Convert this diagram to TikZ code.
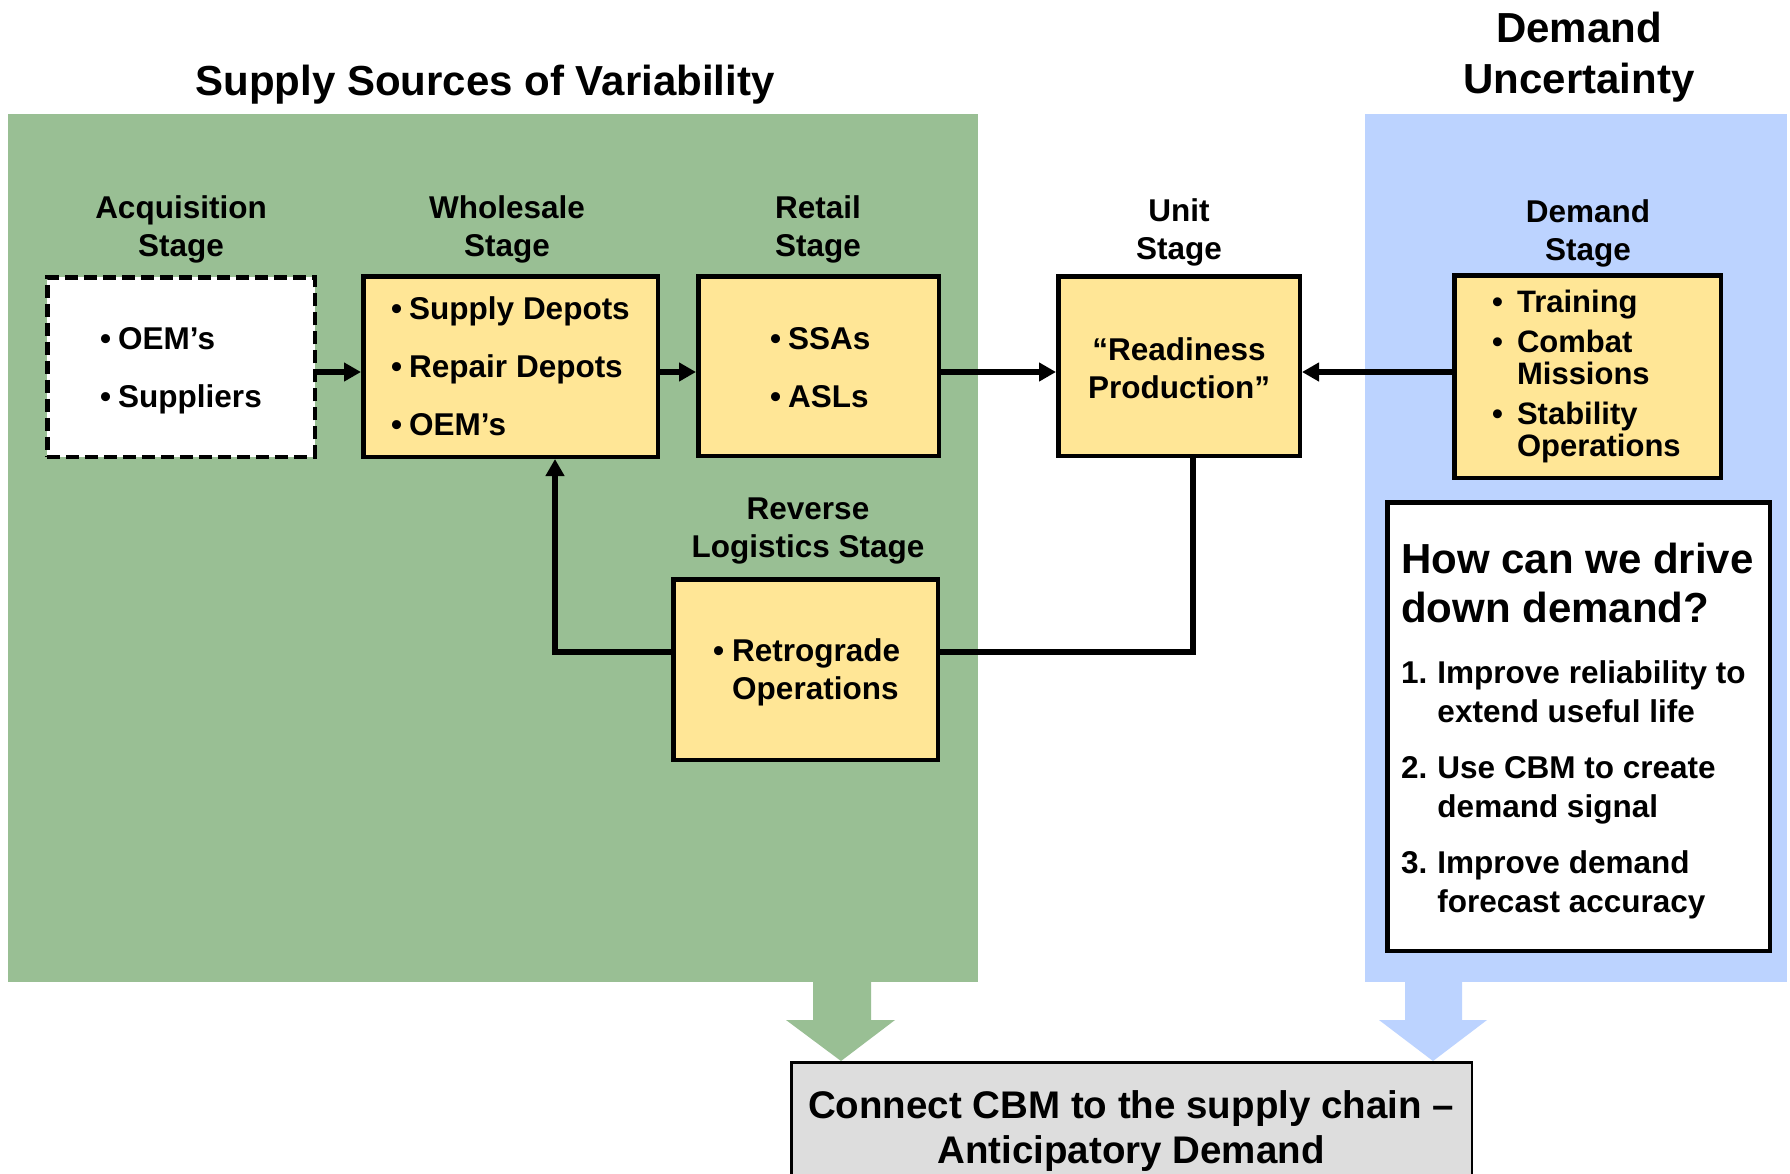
\documentclass[tikz,border=0pt]{standalone}
\usepackage{fontspec}
\setmainfont{Liberation Sans}
\usetikzlibrary{arrows.meta}

\definecolor{supplygreen}{RGB}{153,191,148}
\definecolor{demandblue}{RGB}{188,211,255}
\definecolor{stageyellow}{RGB}{255,230,150}
\definecolor{resultgray}{RGB}{221,221,221}

% stacked lines; the baseline of the block is the baseline of its first row
\newcommand\stacklines[2]{\begin{tabular}[t]{@{}#1@{}}#2\end{tabular}}
\newcommand\bul{\textbullet}

\begin{document}
\begin{tikzpicture}[x=1pt,y=-1pt,
  stagebox/.style={draw=black, line width=4.5pt, fill=stageyellow, inner sep=0pt},
  notebox/.style={draw=black, line width=4.5pt, fill=white, inner sep=0pt},
  headline/.style={font=\fontsize{42}{51}\selectfont\bfseries, inner sep=0pt, anchor=base},
  stagelabel/.style={font=\fontsize{31.5}{38}\selectfont\bfseries, inner sep=0pt, anchor=base},
  itemtext/.style={font=\fontsize{31.5}{58}\selectfont\bfseries, inner sep=0pt, anchor=base west},
  flow/.style={line width=5.5pt},
  tip/.style={-{Triangle[length=17pt,width=18pt]}}]

\useasboundingbox (0,0) rectangle (1790,1173);
\clip (0,0) rectangle (1790,1173);
\fill[white] (0,0) rectangle (1790,1173);

% coloured regions
\fill[supplygreen] (8,114) rectangle (978,982);
\fill[demandblue] (1365,114) rectangle (1787,982);

% block arrows towards the conclusion box
\fill[supplygreen] (813,981) -- (813,1020) -- (786,1020) -- (841,1061)
  -- (895,1020) -- (871,1020) -- (871,981) -- cycle;
\fill[demandblue] (1405,981) -- (1405,1020) -- (1379,1020) -- (1433,1061)
  -- (1487,1020) -- (1462,1020) -- (1462,981) -- cycle;

% headings
\node[headline] (supplytitle) at (485,95) {Supply Sources of Variability};
\node[headline] (demandtitle) at (1579,42) {\stacklines{c}{Demand\\Uncertainty}};

% stage boxes
\node[notebox, dash pattern=on 13pt off 6pt, minimum width=267.5pt, minimum height=179.5pt] (acq) at (181,367) {};
\node[stagebox, minimum width=294.5pt, minimum height=180.5pt] (whs) at (510.5,366.5) {};
\node[stagebox, minimum width=240.5pt, minimum height=179.5pt] (ret) at (818.5,366) {};
\node[stagebox, minimum width=241.5pt, minimum height=179.5pt] (unit) at (1179,366) {};
\node[stagebox, minimum width=266.5pt, minimum height=202.5pt] (dem) at (1587.5,376.5) {};
\node[stagebox, minimum width=264.5pt, minimum height=180.5pt] (rev) at (805.5,669.5) {};
\node[notebox, minimum width=382.5pt, minimum height=448.5pt] (qbox) at (1578.5,726.5) {};
\node[draw=black, line width=2.5pt, fill=resultgray, inner sep=0pt,
  minimum width=680.5pt, minimum height=136.5pt] (result) at (1131.5,1130.5) {};

% stage labels
\node[stagelabel] (acqlabel) at (181,218) {\stacklines{c}{Acquisition\\Stage}};
\node[stagelabel] (whslabel) at (507,218) {\stacklines{c}{Wholesale\\Stage}};
\node[stagelabel] (retlabel) at (818,218) {\stacklines{c}{Retail\\Stage}};
\node[stagelabel] (unitlabel) at (1179,221) {\stacklines{c}{Unit\\Stage}};
\node[stagelabel] (demlabel) at (1588,222) {\stacklines{c}{Demand\\Stage}};
\node[stagelabel] (revlabel) at (808,519) {\stacklines{c}{Reverse\\Logistics Stage}};

% box contents
\node[itemtext] (acqtext) at (100,349)
  {\stacklines{l@{\hspace{7pt}}l}{\bul & OEM’s\\ \bul & Suppliers}};
\node[itemtext] (whstext) at (391,319)
  {\stacklines{l@{\hspace{7pt}}l}{\bul & Supply Depots\\ \bul & Repair Depots\\ \bul & OEM’s}};
\node[itemtext] (rettext) at (770,349)
  {\stacklines{l@{\hspace{7pt}}l}{\bul & SSAs\\ \bul & ASLs}};
\node[stagelabel] (unittext) at (1179,360) {\stacklines{c}{“Readiness\\Production”}};
\node[stagelabel, anchor=base west] (revtext) at (713,661)
  {\stacklines{l@{\hspace{8pt}}l}{\bul & Retrograde\\ & Operations}};
\node[anchor=base west, inner sep=0pt, font=\fontsize{31}{32}\selectfont\bfseries] (demtext) at (1492,312)
  {\stacklines{l@{\hspace{14pt}}l}{\bul & Training\\[8pt] \bul & Combat\\ & Missions\\[8pt] \bul & Stability\\ & Operations}};

% question box contents
\node[headline, anchor=base west, font=\fontsize{42}{49}\selectfont\bfseries] (qhead) at (1401,573)
  {\stacklines{l}{How can we drive\\down demand?}};
\node[anchor=base west, inner sep=0pt, font=\fontsize{31.5}{39}\selectfont\bfseries] (qlist) at (1401,683)
  {\stacklines{l@{\hspace{10pt}}l}{1. & Improve reliability to\\ & extend useful life\\[17pt]
   2. & Use CBM to create\\ & demand signal\\[17pt]
   3. & Improve demand\\ & forecast accuracy}};

% conclusion text
\node[anchor=base, inner sep=0pt, font=\fontsize{38.5}{45}\selectfont\bfseries] (resulttext) at (1131,1118)
  {\stacklines{c}{Connect CBM to the supply chain –\\Anticipatory Demand}};

% flow connectors
\coordinate (row) at (0,372);
\coordinate (loop) at (0,652);
\coordinate (backx) at (555,0);
\coordinate (unitx) at (1193,0);
\draw[flow, tip] (acq.east |- row) -- (whs.west |- row);
\draw[flow, tip] (whs.east |- row) -- (ret.west |- row);
\draw[flow, tip] (ret.east |- row) -- (unit.west |- row);
\draw[flow, tip] (dem.west |- row) -- (unit.east |- row);
\draw[flow] (unit.south -| unitx) |- (rev.east |- loop);
\draw[flow, tip] (rev.west |- loop) -| (whs.south -| backx);

\end{tikzpicture}
\end{document}
